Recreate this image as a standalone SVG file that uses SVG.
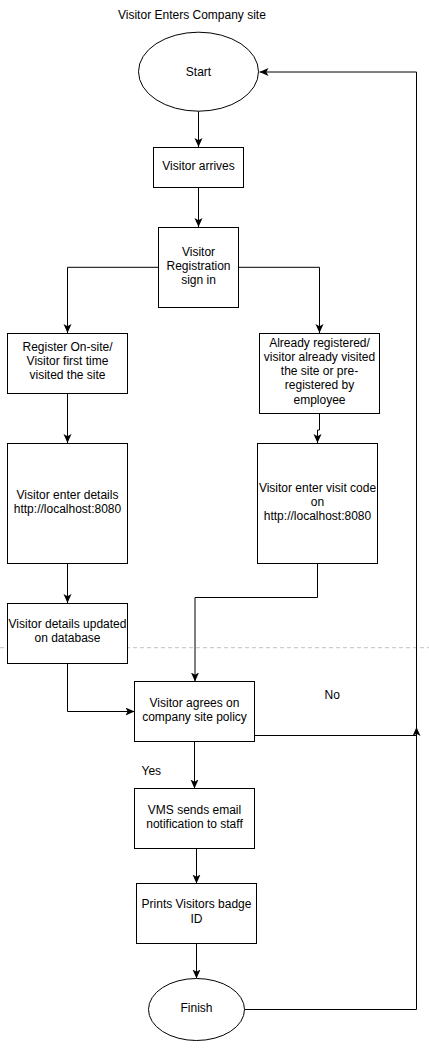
<svg xmlns="http://www.w3.org/2000/svg" width="429" height="1054" viewBox="0 0 429 1054">
<defs>
<marker id="arr" markerUnits="userSpaceOnUse" markerWidth="10" markerHeight="10" refX="9" refY="4" orient="auto">
<path d="M0,0 L9,4 L0,8 L2.2,4 Z" fill="#000"/>
</marker>
<style>
.n{fill:#fff;stroke:#000;stroke-width:1}
.t{font-family:"Liberation Sans",Arial,sans-serif;font-size:12px;fill:#000;text-anchor:middle;dominant-baseline:central}
.l{font-family:"Liberation Sans",Arial,sans-serif;font-size:12px;fill:#000}
.c{fill:none;stroke:#000;stroke-width:1}
.ca{fill:none;stroke:#000;stroke-width:1;marker-end:url(#arr)}
</style>
</defs>
<rect width="429" height="1054" fill="#fff"/>
<line x1="0" y1="647.7" x2="429" y2="647.7" stroke="#c0c0c0" stroke-width="1" stroke-dasharray="4 3"/>
<text class="l" x="118" y="18.5">Visitor Enters Company site</text>
<g id="connectors">
<path class="ca" d="M198.5 111 V147"/>
<path class="ca" d="M198.5 187.5 V227"/>
<path class="ca" d="M158.5 267.3 H67.5 V333"/>
<path class="ca" d="M238.5 267.3 H319.5 V333"/>
<path class="ca" d="M67.5 393.5 V443"/>
<path class="ca" d="M319.5 413.5 V430 H317.5 V443"/>
<path class="ca" d="M67.5 563.5 V603"/>
<path class="ca" d="M317.5 563.5 V597.5 H195 V681.5"/>
<path class="ca" d="M67.5 663.5 V711.5 H134.5"/>
<path class="ca" d="M254.5 735.5 H416.5 V727"/>
<path class="ca" d="M194.5 741.5 V788.5"/>
<path class="ca" d="M196.5 848.5 V883.5"/>
<path class="ca" d="M196.5 943.5 V978.5"/>
<path class="ca" d="M244.5 1009.5 H416.5 V72 H259.5"/>
<text class="l" x="324.5" y="698.5">No</text>
<text class="l" x="141.5" y="775">Yes</text>
</g>
<g id="start">
<ellipse class="n" cx="198.5" cy="71.7" rx="60" ry="39.5"/>
<text class="t" x="198.5" y="71.7">Start</text>
</g>
<g id="arrives">
<rect class="n" x="153.5" y="147.5" width="90" height="40"/>
<text class="t" x="198.5" y="166">Visitor arrives</text>
</g>
<g id="registration">
<rect class="n" x="158.5" y="227.5" width="80" height="80"/>
<text class="t" x="198.5" y="251.7">Visitor</text>
<text class="t" x="198.5" y="265.7">Registration</text>
<text class="t" x="198.5" y="279.7">sign in</text>
</g>
<g id="register-onsite">
<rect class="n" x="7.5" y="333.5" width="120" height="60"/>
<text class="t" x="67.5" y="347.3">Register On-site/</text>
<text class="t" x="67.5" y="361.3">Visitor first time</text>
<text class="t" x="67.5" y="375.3">visited the site</text>
</g>
<g id="already-registered">
<rect class="n" x="259.5" y="333.5" width="120" height="80"/>
<text class="t" x="319.5" y="343">Already registered/</text>
<text class="t" x="319.5" y="357">visitor already visited</text>
<text class="t" x="319.5" y="371">the site or pre-</text>
<text class="t" x="319.5" y="385">registered by</text>
<text class="t" x="319.5" y="399.5">employee</text>
</g>
<g id="enter-details">
<rect class="n" x="7.5" y="443.5" width="120" height="120"/>
<text class="t" x="67.5" y="494.7">Visitor enter details</text>
<text class="t" x="67.5" y="508.7">http://localhost:8080</text>
</g>
<g id="enter-code">
<rect class="n" x="257.5" y="443.5" width="120" height="120"/>
<text class="t" x="317.5" y="487.7">Visitor enter visit code</text>
<text class="t" x="317.5" y="501.7">on</text>
<text class="t" x="317.5" y="515.7">http://localhost:8080</text>
</g>
<g id="details-updated">
<rect class="n" x="7.5" y="603.5" width="120" height="60"/>
<text class="t" x="67.5" y="624.3">Visitor details updated</text>
<text class="t" x="67.5" y="638.3">on database</text>
</g>
<g id="agrees">
<rect class="n" x="134.5" y="681.5" width="120" height="60"/>
<text class="t" x="194.5" y="703.3">Visitor agrees on</text>
<text class="t" x="194.5" y="717.3">company site policy</text>
</g>
<g id="vms">
<rect class="n" x="134.5" y="788.5" width="120" height="60"/>
<text class="t" x="194.5" y="810">VMS sends email</text>
<text class="t" x="194.5" y="824">notification to staff</text>
</g>
<g id="prints">
<rect class="n" x="136.5" y="883.5" width="120" height="60"/>
<text class="t" x="196.5" y="904.3">Prints Visitors badge</text>
<text class="t" x="196.5" y="919">ID</text>
</g>
<g id="finish">
<ellipse class="n" cx="196.5" cy="1009.5" rx="48" ry="31"/>
<text class="t" x="196.5" y="1007.5">Finish</text>
</g>
</svg>
